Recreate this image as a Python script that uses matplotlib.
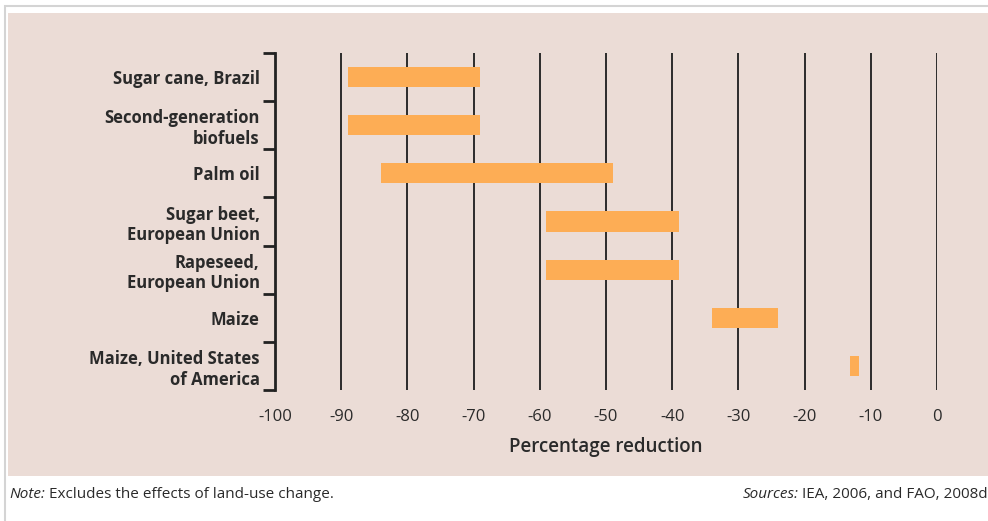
import matplotlib
matplotlib.use("Agg")
import matplotlib.pyplot as plt
import matplotlib.patches as patches
import numpy as np

plt.rcParams['font.family'] = ['Open Sans', 'DejaVu Sans']

# data (percentage reduction ranges)
crops = ["Sugar cane, Brazil", "Second-generation\nbiofuels", "Palm oil",
         "Sugar beet,\nEuropean Union", "Rapeseed,\nEuropean Union", "Maize",
         "Maize, United States\nof America"]
low = [-89, -89, -84, -59, -59, -34, -13.2]
high = [-69, -69, -49, -39, -39, -24, -11.8]
xticks = [-100, -90, -80, -70, -60, -50, -40, -30, -20, -10, 0]

W, H = 988, 521
fig = plt.figure(figsize=(W / 100, H / 100), dpi=100)
fig.patch.set_facecolor("white")

# outer frame and pink panel (behind the axes)
fig.patches.append(patches.Rectangle((5 / W, -0.1), 1, 1.1 - 6 / H,
                                     transform=fig.transFigure, zorder=-2,
                                     facecolor="none", edgecolor="#d4d4d4", lw=1.5))
fig.patches.append(patches.Rectangle((8 / W, 1 - 476 / H), 1, (476 - 13) / H,
                                     transform=fig.transFigure, zorder=-1,
                                     facecolor="#ebdcd6", edgecolor="none"))

ax = fig.add_axes([275 / W, 1 - 390 / H, (937 - 275) / W, (390 - 53) / H])
ax.set_facecolor("none")

y = np.arange(len(crops))
ax.barh(y, np.array(high) - np.array(low), left=low, height=0.42,
        color="#fdad55", zorder=3)

for v in xticks[1:]:
    ax.axvline(v, color="#2b2b2b", lw=1.4, zorder=2)

ax.set_xlim(-100, 0)
ax.set_ylim(len(crops) - 0.5, -0.5)

ax.set_yticks(np.arange(-0.5, len(crops)))
ax.set_yticklabels([])
ax.set_yticks(y, minor=True)
ax.set_yticklabels(crops, minor=True, fontsize=12, fontweight="bold",
                   color="#2a2a2a", linespacing=1.2)
ax.tick_params(axis="y", which="major", length=9, width=2, color="#222222",
               direction="out")
ax.tick_params(axis="y", which="minor", length=0, pad=11)

ax.set_xticks(xticks)
ax.set_xticklabels([str(v) for v in xticks], fontsize=12, color="#2a2a2a")
ax.tick_params(axis="x", length=0, pad=14)
ax.set_xlabel("Percentage reduction", fontsize=13.5, fontweight="semibold",
              color="#2a2a2a", labelpad=8)

for s in ["top", "right", "bottom"]:
    ax.spines[s].set_visible(False)
ax.spines["left"].set_color("#222222")
ax.spines["left"].set_linewidth(2)

fig.text(9 / W, 1 - 494 / H, "Note:", fontsize=11, style="italic",
         color="#2a2a2a", va="center")
fig.text(49 / W, 1 - 494 / H, "Excludes the effects of land-use change.",
         fontsize=11, color="#2a2a2a", va="center")
fig.text(1.0, 1 - 494 / H, "IEA, 2006, and FAO, 2008d", fontsize=11,
         color="#2a2a2a", va="center", ha="right")
fig.text(799 / W, 1 - 494 / H, "Sources:", fontsize=11, style="italic",
         color="#2a2a2a", va="center", ha="right")

fig.savefig("out.png", dpi=100, facecolor=fig.get_facecolor())
